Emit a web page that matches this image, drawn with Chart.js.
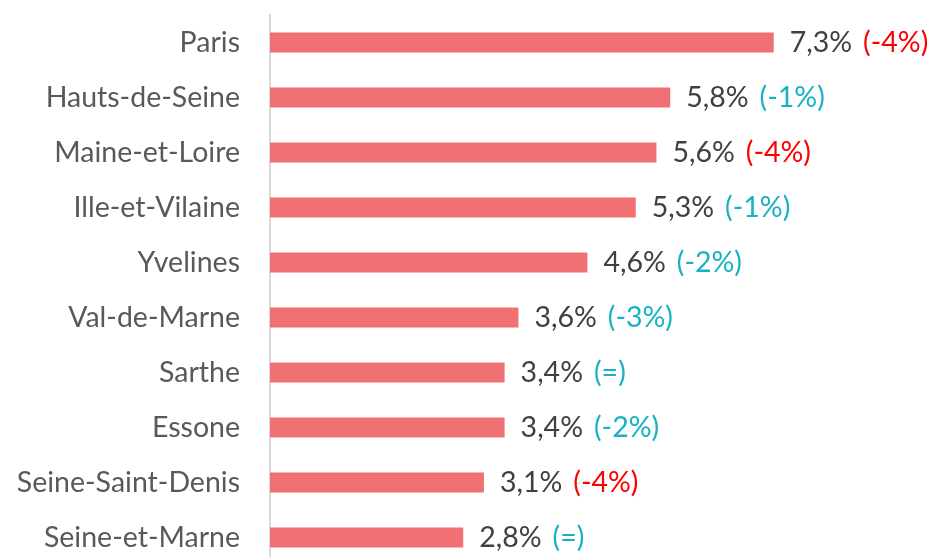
<!DOCTYPE html>
<html>
<head>
<meta charset="utf-8">
<script src="https://cdn.jsdelivr.net/npm/chart.js@4.4.1/dist/chart.umd.min.js"></script>
<style>
  html, body { margin: 0; padding: 0; background: #ffffff; overflow: hidden; }
  #wrap { position: relative; width: 929px; height: 565px; }
</style>
</head>
<body>
<div id="wrap"><canvas id="c"></canvas></div>
<script>
const categories = ["Paris", "Hauts-de-Seine", "Maine-et-Loire", "Ille-et-Vilaine", "Yvelines",
  "Val-de-Marne", "Sarthe", "Essone", "Seine-Saint-Denis", "Seine-et-Marne"];
const shares = [7.3, 5.8, 5.6, 5.3, 4.6, 3.6, 3.4, 3.4, 3.1, 2.8];
const valueLabels = ["7,3%", "5,8%", "5,6%", "5,3%", "4,6%", "3,6%", "3,4%", "3,4%", "3,1%", "2,8%"];
const changeLabels = ["(-4%)", "(-1%)", "(-4%)", "(-1%)", "(-2%)", "(-3%)", "(=)", "(-2%)", "(-4%)", "(=)"];
const changeIsStrong = [true, false, true, false, false, false, false, false, true, false];

const FONT = "Lato, 'Open Sans', sans-serif";
const FONT_SIZE = 28.5;

const labelPlugin = {
  id: 'barLabels',
  afterDatasetsDraw(chart) {
    const ctx = chart.ctx;
    const meta = chart.getDatasetMeta(0);
    ctx.save();
    ctx.font = FONT_SIZE + "px " + FONT;
    ctx.textBaseline = 'middle';
    ctx.textAlign = 'left';
    meta.data.forEach((bar, i) => {
      const x0 = bar.x + 16;
      ctx.fillStyle = '#404040';
      ctx.fillText(valueLabels[i], x0, bar.y);
      const w = ctx.measureText(valueLabels[i]).width;
      ctx.fillStyle = changeIsStrong[i] ? '#FF0000' : '#17B2C2';
      ctx.fillText(changeLabels[i], x0 + w + 11, bar.y);
    });
    ctx.restore();
  }
};

new Chart(document.getElementById('c'), {
  type: 'bar',
  data: {
    labels: categories,
    datasets: [{
      data: shares,
      backgroundColor: '#F07074',
      borderWidth: 0,
      barPercentage: 0.36,
      categoryPercentage: 1.0
    }]
  },
  options: {
    indexAxis: 'y',
    responsive: true,
    maintainAspectRatio: false,
    animation: false,
    layout: { padding: { top: 15, bottom: 0, left: 0, right: 0 } },
    plugins: {
      legend: { display: false },
      tooltip: { enabled: false }
    },
    scales: {
      x: {
        display: false,
        min: 0,
        max: 9.55
      },
      y: {
        afterFit(scale) { scale.width = 270; scale.paddingTop = 0; scale.paddingBottom = 0; },
        grid: { display: false, drawTicks: false },
        border: { display: true, color: '#D9D9D9', width: 2 },
        ticks: {
          padding: 30,
          color: '#595959',
          font: { family: FONT, size: FONT_SIZE }
        }
      }
    }
  },
  plugins: [labelPlugin]
});
</script>
</body>
</html>
